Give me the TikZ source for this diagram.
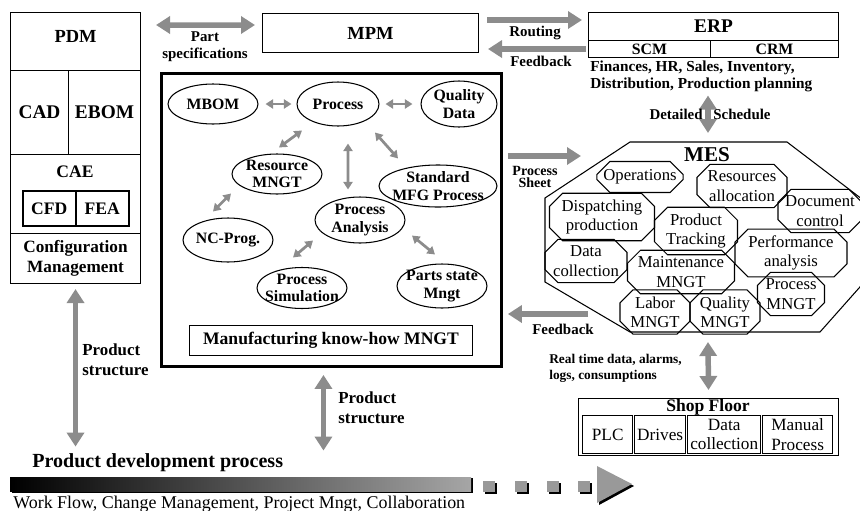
\documentclass[tikz,border=0pt]{standalone}
\usepackage{fontspec}
\setmainfont{Liberation Serif}
\usepackage{tikz}
\usetikzlibrary{arrows.meta}
\usetikzlibrary{shapes.misc}
\usetikzlibrary{shapes.geometric}

\begin{document}
\begin{tikzpicture}[x=0.02cm, y=-0.02cm,
  every node/.style={inner sep=0pt, align=center, font=\bfseries\fontsize{9}{10}\selectfont},
  cell/.style={draw, line width=0.6pt, anchor=north west},
  task/.style={ellipse, draw, line width=0.6pt, inner xsep=-14pt, inner ysep=-5pt},
  mestask/.style={chamfered rectangle, draw, line width=0.6pt, chamfered rectangle xsep=0.13cm, chamfered rectangle ysep=0.13cm, font=\fontsize{9.5}{11}\selectfont},
  lbl/.style={font=\bfseries\fontsize{8.5}{9.6}\selectfont},
  bigarr/.style={draw=black!45, line width=1.1mm},
  smallarr/.style={draw=black!45, line width=0.55mm},
  bigtip/.tip={Triangle[width=3.4mm,length=2.8mm]},
  smalltip/.tip={Triangle[width=1.8mm,length=1.5mm]}]
  \path[use as bounding box, clip] (0,0) rectangle (860,511);

  % PDM column
  \node[cell, minimum width=2.6cm, minimum height=1.16cm, text depth=0.2cm, font=\bfseries\fontsize{10.5}{12}\selectfont] (pdm) at (10,12) {PDM};
  \node[cell, minimum width=1.16cm, minimum height=1.68cm, font=\bfseries\fontsize{11}{12}\selectfont] (cad) at (10,70) {CAD};
  \node[cell, minimum width=1.44cm, minimum height=1.68cm, font=\bfseries\fontsize{11}{12}\selectfont] (ebom) at (68,70) {EBOM};
  \node[cell, minimum width=2.6cm, minimum height=1.58cm] (cae) at (10,154) {};
  \node[font=\bfseries\fontsize{10}{12}\selectfont] (caetitle) at (75,172) {CAE};
  \node[cell, line width=0.9pt, minimum width=1.06cm, minimum height=0.7cm, font=\bfseries\fontsize{10}{12}\selectfont] (cfd) at (22,190) {CFD};
  \node[cell, line width=0.9pt, minimum width=1.06cm, minimum height=0.7cm, font=\bfseries\fontsize{10}{12}\selectfont] (fea) at (75,190) {FEA};
  \node[cell, minimum width=2.6cm, minimum height=1cm, font=\bfseries\fontsize{9.8}{11.3}\selectfont] (config) at (10,233) {Configuration\\Management};

  % MPM and ERP
  \node[cell, minimum width=4.32cm, minimum height=0.78cm, font=\bfseries\fontsize{10.5}{12}\selectfont] (mpm) at (262,13) {MPM};
  \node[cell, minimum width=5cm, minimum height=0.56cm, font=\bfseries\fontsize{11}{12}\selectfont] (erp) at (588,12) {ERP};
  \node[cell, minimum width=2.44cm, minimum height=0.34cm] (scm) at (588,40) {SCM};
  \node[cell, minimum width=2.56cm, minimum height=0.34cm] (crm) at (710,40) {CRM};
  \node[anchor=north west, align=left, font=\bfseries\fontsize{8.7}{9.6}\selectfont] (erpinfo) at (590,61) {Finances, HR, Sales, Inventory,\\Distribution, Production planning};

  % manufacturing know-how
  \node[cell, line width=1.7pt, minimum width=6.8cm, minimum height=5.86cm] (main) at (160,72) {};
  \node[task, minimum width=1.8cm, minimum height=0.8cm] (mbom) at (213,104) {MBOM};
  \node[task, minimum width=1.64cm, minimum height=0.88cm] (proc) at (338,104) {Process};
  \node[task, minimum width=1.52cm, minimum height=0.92cm] (qual) at (459,104) {Quality\\Data};
  \node[task, minimum width=1.8cm, minimum height=0.8cm] (res) at (277,174) {Resource\\MNGT};
  \node[task, minimum width=2.36cm, minimum height=0.84cm] (std) at (438,186) {Standard\\MFG Process};
  \node[task, minimum width=1.8cm, minimum height=0.88cm] (nc) at (228,240) {NC-Prog.};
  \node[task, minimum width=1.8cm, minimum height=0.92cm] (ana) at (360,220) {Process\\Analysis};
  \node[task, minimum width=1.8cm, minimum height=0.82cm] (sim) at (302,288) {Process\\Simulation};
  \node[task, minimum width=1.8cm, minimum height=0.88cm] (parts) at (442,286) {Parts state\\Mngt};
  \node[cell, minimum width=5.66cm, minimum height=0.6cm, font=\bfseries\fontsize{10}{12}\selectfont] (knowhow) at (189,325) {Manufacturing know-how MNGT};

  \draw[smallarr, smalltip-smalltip] ([xshift=0.14cm]mbom.east) -- ([xshift=-0.1cm]proc.west);
  \draw[smallarr, smalltip-smalltip] ([xshift=0.12cm]proc.east) -- ([xshift=-0.16cm]qual.west);
  \draw[smallarr, smalltip-smalltip] ([xshift=-0.72cm,yshift=-0.08cm]proc.south) -- ([xshift=0.04cm,yshift=0.12cm]res.north);
  \draw[smallarr, smalltip-smalltip] ([xshift=0.2cm,yshift=-0.34cm]proc.south) -- ([xshift=-0.24cm,yshift=0.14cm]ana.north);
  \draw[smallarr, smalltip-smalltip] ([xshift=0.74cm,yshift=-0.12cm]proc.south) -- ([xshift=-0.8cm,yshift=0.12cm]std.north);
  \draw[smallarr, smalltip-smalltip] ([xshift=-0.92cm,yshift=0.02cm]res.south) -- ([xshift=-0.3cm,yshift=0.12cm]nc.north);
  \draw[smallarr, smalltip-smalltip] ([xshift=-0.94cm,yshift=0.06cm]ana.south) -- ([xshift=-0.18cm,yshift=0.19cm]sim.north);
  \draw[smallarr, smalltip-smalltip] ([xshift=1.04cm,yshift=0.16cm]ana.south) -- ([xshift=-0.14cm,yshift=0.18cm]parts.north);

  % MES
  \coordinate (mestop) at (708,142);
  \coordinate (mesbot) at (708,332);
  \draw[line width=0.6pt] (630,142) -- (787,142) -- (875,209) -- (875,270) -- (820,332) -- (630,332) -- (545,282) -- (545,198) -- cycle;
  \node[font=\bfseries\fontsize{12}{14}\selectfont] (mes) at (707,155) {MES};
  \node[mestask, minimum width=1.68cm, minimum height=0.62cm] (ops) at (640,177) {Operations};
  \node[mestask, minimum width=1.8cm, minimum height=0.84cm] (alloc) at (742,186) {Resources\\allocation};
  \node[mestask, minimum width=1.68cm, minimum height=0.76cm] (doc) at (820,211) {Document\\control};
  \node[mestask, minimum width=2.1cm, minimum height=0.82cm] (disp) at (602,217) {Dispatching\\production};
  \node[mestask, minimum width=1.66cm, minimum height=0.84cm] (track) at (696,231) {Product\\Tracking};
  \node[mestask, minimum width=2.24cm, minimum height=0.8cm] (perf) at (791,253) {Performance\\analysis};
  \node[mestask, minimum width=1.64cm, minimum height=0.84cm] (datac) at (586,261) {Data\\collection};
  \node[mestask, minimum width=2.14cm, minimum height=0.78cm] (maint) at (681,272) {Maintenance\\MNGT};
  \node[mestask, minimum width=1.34cm, minimum height=0.76cm] (procm) at (791,294) {Process\\MNGT};
  \node[mestask, minimum width=1.4cm, minimum height=0.78cm] (labor) at (655,312) {Labor\\MNGT};
  \node[mestask, minimum width=1.4cm, minimum height=0.78cm] (qualm) at (725,312) {Quality\\MNGT};

  % shop floor
  \node[cell, minimum width=5.2cm, minimum height=1.14cm] (shop) at (578,398) {};
  \node[font=\bfseries\fontsize{10}{12}\selectfont] (shoptitle) at (708,407.5) {Shop Floor};
  \node[cell, line width=0.8pt, minimum width=1cm, minimum height=0.76cm, font=\fontsize{9.8}{11}\selectfont] (plc) at (582,415) {PLC};
  \node[cell, line width=0.8pt, minimum width=1.02cm, minimum height=0.76cm, font=\fontsize{9.8}{11}\selectfont] (drives) at (634,415) {Drives};
  \node[cell, line width=0.8pt, minimum width=1.46cm, minimum height=0.76cm, font=\fontsize{9.8}{11}\selectfont] (sfdata) at (687,415) {Data\\collection};
  \node[cell, line width=0.8pt, minimum width=1.4cm, minimum height=0.76cm, font=\fontsize{9.8}{11}\selectfont] (manual) at (762,415) {Manual\\Process};

  % flows between systems
  \node[anchor=west, font=\bfseries\fontsize{11.4}{12}\selectfont] (pdp) at (32,463) {Product development process};
  \coordinate (sheetend) at (581,156);
  \coordinate (fbstart) at (588,314);

  \draw[bigarr, bigtip-bigtip] ([xshift=0.3cm,yshift=-0.26cm]pdm.north east) -- ([xshift=-0.14cm,yshift=-0.24cm]mpm.north west);
  \node[lbl] (partlbl) at (205,47) {Part\\specifications};
  \draw[bigarr, -bigtip] ([xshift=0.16cm,yshift=-0.14cm]mpm.north east) -- ([xshift=-0.12cm,yshift=-0.16cm]erp.north west);
  \node[lbl] (routelbl) at (535,33) {Routing};
  \draw[bigarr, -bigtip] ([xshift=-0.04cm]scm.west) -- ([xshift=0.18cm]mpm.east |- scm.west);
  \node[lbl] (fbtoplbl) at (541,61) {Feedback};
  \draw[bigarr, bigtip-bigtip] ([yshift=-0.06cm]erpinfo.south -| mestop) -- ([yshift=0.18cm]mestop);
  \node[lbl, anchor=east] (detlbl) at (703,114) {Detailed};
  \node[lbl, anchor=west] (schedlbl) at (713,114) {Schedule};
  \draw[bigarr, -bigtip] ([xshift=0.1cm]main.east |- sheetend) -- (sheetend);
  \node[lbl, font=\bfseries\fontsize{8}{7}\selectfont] (sheetlbl) at (535,177) {Process\\Sheet};
  \draw[bigarr, -bigtip] (fbstart) -- ([xshift=0.1cm]main.east |- fbstart);
  \node[lbl] (fblowlbl) at (563,329) {Feedback};
  \draw[bigarr, bigtip-bigtip] ([yshift=-0.2cm]mesbot) -- ([yshift=0.16cm]shop.north);
  \node[lbl, anchor=west, align=left, font=\bfseries\fontsize{7.6}{9}\selectfont] (rtlbl) at (549,368) {Real time data, alarms,\\logs, consumptions};
  \draw[bigarr, bigtip-bigtip] ([yshift=-0.1cm]config.south) -- ([yshift=0.14cm]config.south |- pdp.north);
  \node[lbl, anchor=west, align=left, font=\bfseries\fontsize{9.6}{11.3}\selectfont] (pslbl) at (82,360) {Product\\structure};
  \draw[bigarr, bigtip-bigtip] ([xshift=-0.16cm,yshift=-0.14cm]main.south) -- ([xshift=-0.16cm,yshift=0.06cm]main.south |- pdp.north);
  \node[lbl, anchor=west, align=left, font=\bfseries\fontsize{9.6}{11.3}\selectfont] (pslbl2) at (338,408) {Product\\structure};

  % process bar
  \fill[black] (11.5,478) rectangle (472.5,492.5);
  \shade[left color=black, middle color=black!70, right color=black!35] (10,477) rectangle (471,491);
  \foreach \sx in {483,515,547,578} {
    \fill[black] (\sx+1.5,482.5) rectangle (\sx+13.5,493.5);
    \fill[black!40] (\sx,481) rectangle (\sx+12,492);
  }
  \fill[black] (599,468) -- (634,486) -- (599,505) -- cycle;
  \fill[black!40] (597,466) -- (632,484) -- (597,503) -- cycle;
  \node[anchor=west, font=\fontsize{10.2}{12}\selectfont] (wflbl) at (13,504.5) {Work Flow, Change Management, Project Mngt, Collaboration};
\end{tikzpicture}
\end{document}
